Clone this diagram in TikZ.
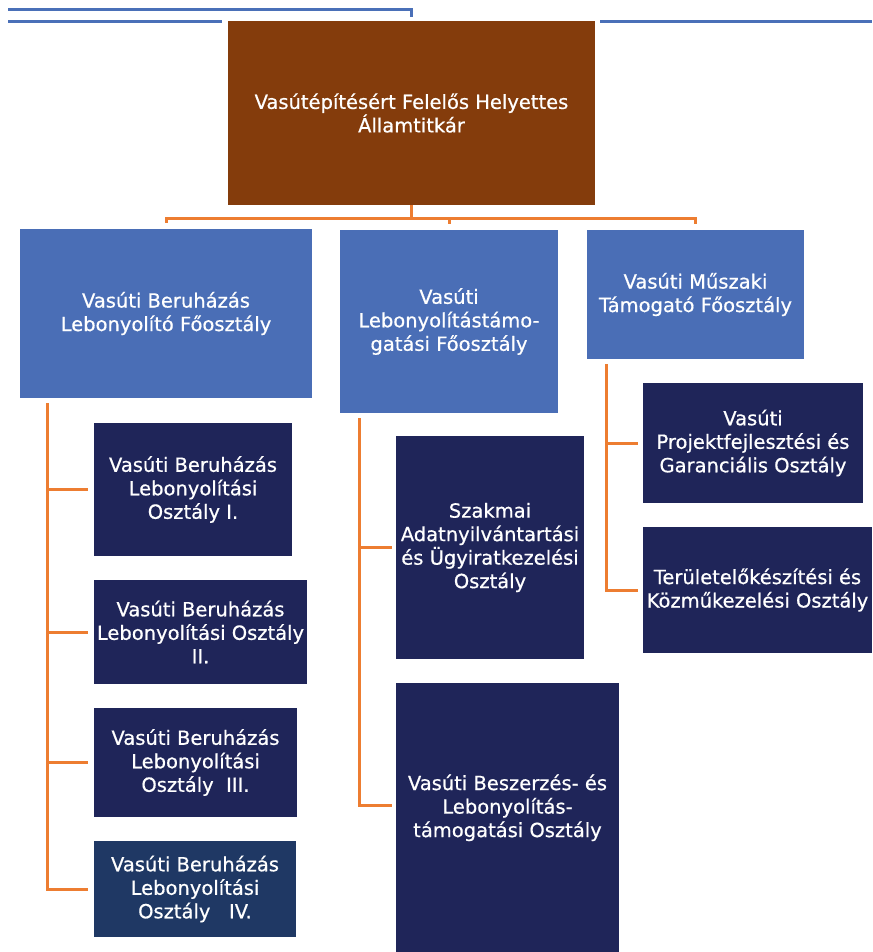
\documentclass[tikz,border=0pt]{standalone}
\usepackage{fontspec}
\setmainfont{DejaVu Sans}[FakeBold=0.6]
\usetikzlibrary{positioning}
\definecolor{brownbox}{HTML}{843C0C}
\definecolor{bluebox}{HTML}{4A6EB6}
\definecolor{navybox}{HTML}{1F2559}
\definecolor{navyboxb}{HTML}{1F3864}
\definecolor{orangeline}{HTML}{ED7D31}
\definecolor{blueline}{HTML}{4A70B8}

\begin{document}
\begin{tikzpicture}[x=1pt,y=-1pt,font=\fontsize{19.5}{23.5}\selectfont,
  box/.style 2 args={text=white, align=center, inner sep=1pt,
    minimum width=#1pt, minimum height=#2pt},
  conn/.style={orangeline, line width=3pt},
  topline/.style={blueline, line width=3pt}]
  \useasboundingbox (0,0) rectangle (872,952);

  % cut-off lines above the chart
  \draw[topline] (8,10) -- (411,10) -- (411,17);
  \draw[topline] (8,22) -- (222,22);
  \draw[topline] (600,22) -- (872,22);

  \node[box={367}{184}, fill=brownbox] (allamtitkar) at (411.5,113)
    {Vasútépítésért Felelős Helyettes\\Államtitkár};

  \node[box={292}{169}, fill=bluebox] (beruhazas) at (166,313.5)
    {Vasúti Beruházás\\Lebonyolító Főosztály};
  \node[box={218}{183}, fill=bluebox] (tamogatas) at (449,321.5)
    {Vasúti\\Lebonyolítástámo-\\gatási Főosztály};
  \node[box={217}{129}, fill=bluebox] (muszaki) at (695.5,294.5)
    {Vasúti Műszaki\\Támogató Főosztály};

  \node[box={198}{133}, fill=navybox] (osztI) at (193,489.5)
    {Vasúti Beruházás\\Lebonyolítási\\Osztály I.};
  \node[box={213}{104}, fill=navybox] (osztII) at (200.5,632)
    {Vasúti Beruházás\\Lebonyolítási Osztály\\II.};
  \node[box={203}{109}, fill=navybox] (osztIII) at (195.5,762.5)
    {Vasúti Beruházás\\Lebonyolítási\\Osztály~~III.};
  \node[box={202}{96}, fill=navyboxb] (osztIV) at (195,889)
    {Vasúti Beruházás\\Lebonyolítási\\Osztály~~~IV.};

  \node[box={188}{223}, fill=navybox] (szakmai) at (490,547.5)
    {Szakmai\\Adatnyilvántartási\\és Ügyiratkezelési\\Osztály};
  \node[box={223}{269}, fill=navybox] (beszerzes) at (507.5,817.5)
    {Vasúti Beszerzés- és\\Lebonyolítás-\\támogatási Osztály\\\mbox{}};

  \node[box={220}{120}, fill=navybox] (projekt) at (753,443)
    {Vasúti\\Projektfejlesztési és\\Garanciális Osztály};
  \node[box={229}{126}, fill=navybox] (terulet) at (757.5,590)
    {Területelőkészítési és\\Közműkezelési Osztály};

  % top level
  \coordinate (bus) at ([yshift=-13pt]allamtitkar.south);
  \draw[conn] (allamtitkar.south) -- (bus);
  \draw[conn] ([yshift=6pt]beruhazas.north) |- (bus) -| ([yshift=6pt]muszaki.north);
  \draw[conn] (bus -| tamogatas.north) -- ([yshift=6pt]tamogatas.north);

  % left column
  \coordinate (trunkL) at ([xshift=28pt,yshift=-5pt]beruhazas.south west);
  \draw[conn] (trunkL) |- ([xshift=-6pt]osztIV.west);
  \foreach \n in {osztI,osztII,osztIII}
    \draw[conn] (trunkL |- \n.west) -- ([xshift=-6pt]\n.west);

  % middle column
  \coordinate (trunkM) at ([xshift=20pt,yshift=-5pt]tamogatas.south west);
  \draw[conn] (trunkM) |- ([xshift=-4pt,yshift=12pt]beszerzes.west);
  \draw[conn] (trunkM |- szakmai.west) -- ([xshift=-4pt]szakmai.west);

  % right column
  \coordinate (trunkR) at ([xshift=20pt,yshift=-5pt]muszaki.south west);
  \draw[conn] (trunkR) |- ([xshift=-5pt]terulet.west);
  \draw[conn] (trunkR |- projekt.west) -- ([xshift=-5pt]projekt.west);
\end{tikzpicture}
\end{document}
